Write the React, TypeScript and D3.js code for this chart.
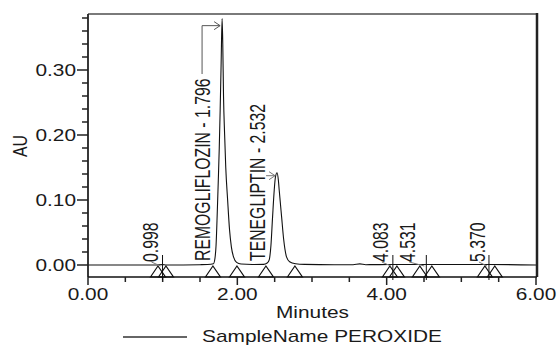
import React from "react";
import * as d3 from "d3";

// Chromatogram trace: [minutes, AU]
const signal: [number, number][] = [
  [0, 0], [0.9, 0], [0.998, 0.0006], [1.05, 0], [1.5, 0.0005], [1.6, 0.0008],
  [1.68, 0.002], [1.7, 0.01], [1.715, 0.03], [1.731, 0.08], [1.745, 0.13],
  [1.758, 0.18], [1.77, 0.238], [1.783, 0.31], [1.796, 0.379], [1.805, 0.34],
  [1.815, 0.26], [1.83, 0.2], [1.845, 0.15], [1.87, 0.1], [1.895, 0.055],
  [1.92, 0.028], [1.95, 0.012], [1.99, 0.004], [2.05, 0.0015], [2.2, 0.0008],
  [2.35, 0.001], [2.4, 0.003], [2.427, 0.008], [2.45, 0.03], [2.472, 0.074],
  [2.494, 0.115], [2.51, 0.135], [2.532, 0.142], [2.55, 0.13], [2.561, 0.115],
  [2.593, 0.074], [2.62, 0.04], [2.66, 0.012], [2.7, 0.005], [2.78, 0.002],
  [2.9, 0.001], [3.3, 0.0005], [3.55, 0.0005], [3.64, 0.0018], [3.72, 0.0005],
  [4.083, 0.0008], [4.531, 0.0008], [5.37, 0.0008], [6, 0],
];

const peakLabels = ["0.998", "REMOGLIFLOZIN - 1.796", "TENEGLIPTIN - 2.532", "4.083", "4.531", "5.370"];
const peakTimes = [0.998, 1.796, 2.532, 4.083, 4.531, 5.37];
const peakHeights = [0.0006, 0.379, 0.142, 0.0008, 0.0008, 0.0008];
const peakNamed = [false, true, true, false, false, false];
const peakStarts = [0.937, 1.673, 2.383, 4.043, 4.444, 5.315];
const peakEnds = [1.044, 1.995, 2.771, 4.137, 4.605, 5.448];

const xMajorTicks = [0, 2, 4, 6];
const xTickLabels = ["0.00", "2.00", "4.00", "6.00"];
const yMajorTicks = [0, 0.1, 0.2, 0.3];
const yTickLabels = ["0.00", "0.10", "0.20", "0.30"];

const xTitle = "Minutes";
const yTitle = "AU";
const legendLabel = "SampleName PEROXIDE";

const W = 560;
const H = 345;
const FONT = "'Liberation Sans', Arial, sans-serif";
const FS = 15.8;
const SX = 1.32;
const SXR = 1.42;

export default function App() {
  const left = 88, right = 537, top = 14, bottom = 277;
  const x = d3.scaleLinear().domain([0, 6]).range([left, right - 1]);
  const y = d3.scaleLinear().domain([0, 0.1]).range([265, 200]);

  const line = d3
    .line<[number, number]>()
    .x((d) => x(d[0]))
    .y((d) => y(d[1]))
    .curve(d3.curveMonotoneX);

  const xMinor = d3.range(0, 6.0001, 0.5).filter((v) => !xMajorTicks.some((m) => Math.abs(m - v) < 1e-6));
  const yMinor = d3.range(0, 0.3801, 0.02).filter((v) => !yMajorTicks.some((m) => Math.abs(m - v) < 1e-6));

  const textColor = "#1a1a1a";
  const smallDx = [-5, 0, 0, -5, -11, -4];

  const tri = (cx: number) => {
    const b = bottom, t = y(0) + 1, hw = 7.5;
    return `M${cx - hw},${b} L${cx},${t} L${cx + hw},${b} Z`;
  };

  const capW = FS * 0.716 * SXR;

  return (
    <svg width={W} height={H} style={{ position: "absolute", left: 0, top: 0, background: "#fff" }}>
      {/* signal */}
      <path d={line(signal) || ""} fill="none" stroke="#111" strokeWidth={1.1} />

      {/* frame */}
      <line x1={left} x2={right} y1={top} y2={top} stroke="#7a7a7a" strokeWidth={2} />
      <line x1={right} x2={right} y1={top - 1} y2={bottom} stroke="#222" strokeWidth={2.5} />
      <line x1={left} x2={left} y1={top} y2={bottom} stroke="#222" strokeWidth={1.8} />
      <line x1={left} x2={right} y1={bottom} y2={bottom} stroke="#111" strokeWidth={1.6} />

      {/* y ticks */}
      {yMinor.map((v, i) => (
        <line key={"ym" + i} x1={left - 6} x2={left} y1={y(v)} y2={y(v)} stroke="#222" strokeWidth={1.5} />
      ))}
      {yMajorTicks.map((v, i) => (
        <g key={"yM" + i}>
          <line x1={left - 11} x2={left} y1={y(v)} y2={y(v)} stroke="#222" strokeWidth={1.5} />
          <text
            transform={`translate(${left - 12},${y(v) + 5.6}) scale(${SX},1)`}
            textAnchor="end"
            fontFamily={FONT}
            fontSize={FS}
            fill={textColor}
          >
            {yTickLabels[i]}
          </text>
        </g>
      ))}

      {/* x ticks */}
      {xMinor.map((v, i) => (
        <line key={"xm" + i} x1={x(v)} x2={x(v)} y1={bottom} y2={bottom + 5} stroke="#222" strokeWidth={1.5} />
      ))}
      {xMajorTicks.map((v, i) => (
        <g key={"xM" + i}>
          <line x1={x(v)} x2={x(v)} y1={bottom} y2={bottom + 8} stroke="#222" strokeWidth={1.5} />
          <text
            transform={`translate(${x(v)},${bottom + 23}) scale(${SX},1)`}
            textAnchor="middle"
            fontFamily={FONT}
            fontSize={FS}
            fill={textColor}
          >
            {xTickLabels[i]}
          </text>
        </g>
      ))}

      {/* axis titles */}
      <text
        transform={`translate(${(left + right) / 2},318) scale(${SX},1)`}
        textAnchor="middle"
        fontFamily={FONT}
        fontSize={FS}
        fill={textColor}
      >
        {xTitle}
      </text>
      <text
        transform={`translate(27,146) scale(${SX},1) rotate(-90)`}
        textAnchor="middle"
        fontFamily={FONT}
        fontSize={FS}
        fill={textColor}
      >
        {yTitle}
      </text>

      {/* integration triangles */}
      {peakStarts.map((s, i) => (
        <g key={"tr" + i}>
          <path d={tri(x(s))} fill="none" stroke="#111" strokeWidth={1.2} />
          <path d={tri(x(peakEnds[i]))} fill="none" stroke="#111" strokeWidth={1.2} />
        </g>
      ))}

      {/* peak labels */}
      {peakLabels.map((lab, i) => {
        const px = x(peakTimes[i]);
        const py = y(peakHeights[i]);
        if (peakNamed[i]) {
          const bx = px - 12;
          const textBottom = y(0) - 4;
          const cx = bx - capW / 2;
          const approxLen = i === 1 ? 184 : 158;
          const textTop = textBottom - approxLen;
          const el: React.ReactNode[] = [];
          if (py + 7 < textTop) {
            const ly = py + 7;
            el.push(
              <path key="l" d={`M${cx},${textTop - 3} L${cx},${ly} L${px - 2},${ly}`} fill="none" stroke="#555" strokeWidth={1} />,
              <path key="a" d={`M${px - 8},${ly - 4} L${px - 2},${ly} L${px - 8},${ly + 4}`} fill="none" stroke="#555" strokeWidth={1} />
            );
          } else {
            const ly = py + 3;
            el.push(
              <path key="l" d={`M${bx + 1},${ly} L${px - 2},${ly}`} fill="none" stroke="#777" strokeWidth={1} />,
              <path key="a" d={`M${px - 8},${ly - 4} L${px - 2},${ly} L${px - 8},${ly + 4}`} fill="none" stroke="#777" strokeWidth={1} />
            );
          }
          return (
            <g key={"pl" + i}>
              {el}
              <text
                transform={`translate(${bx},${textBottom}) scale(${SXR},1) rotate(-90)`}
                fontFamily={FONT}
                fontSize={FS}
                fill={textColor}
              >
                {lab}
              </text>
            </g>
          );
        }
        const bx = px + smallDx[i];
        const cx = bx - capW / 2 + 2;
        return (
          <g key={"pl" + i}>
            <line x1={px} x2={px} y1={y(0) - 10} y2={bottom + 3} stroke="#111" strokeWidth={1} />
            <path d={`M${cx},${y(0) - 3} L${px - 2},${y(0) + 1}`} fill="none" stroke="#777" strokeWidth={1} />
            <text
              transform={`translate(${bx},${y(0) - 3}) scale(${SXR},1) rotate(-90)`}
              fontFamily={FONT}
              fontSize={FS}
              fill={textColor}
            >
              {lab}
            </text>
          </g>
        );
      })}

      {/* legend */}
      <line x1={123} x2={187} y1={337} y2={337} stroke="#333" strokeWidth={1.5} />
      <text
        transform={`translate(202,342) scale(${SX},1)`}
        fontFamily={FONT}
        fontSize={FS}
        fill={textColor}
      >
        {legendLabel}
      </text>
    </svg>
  );
}
